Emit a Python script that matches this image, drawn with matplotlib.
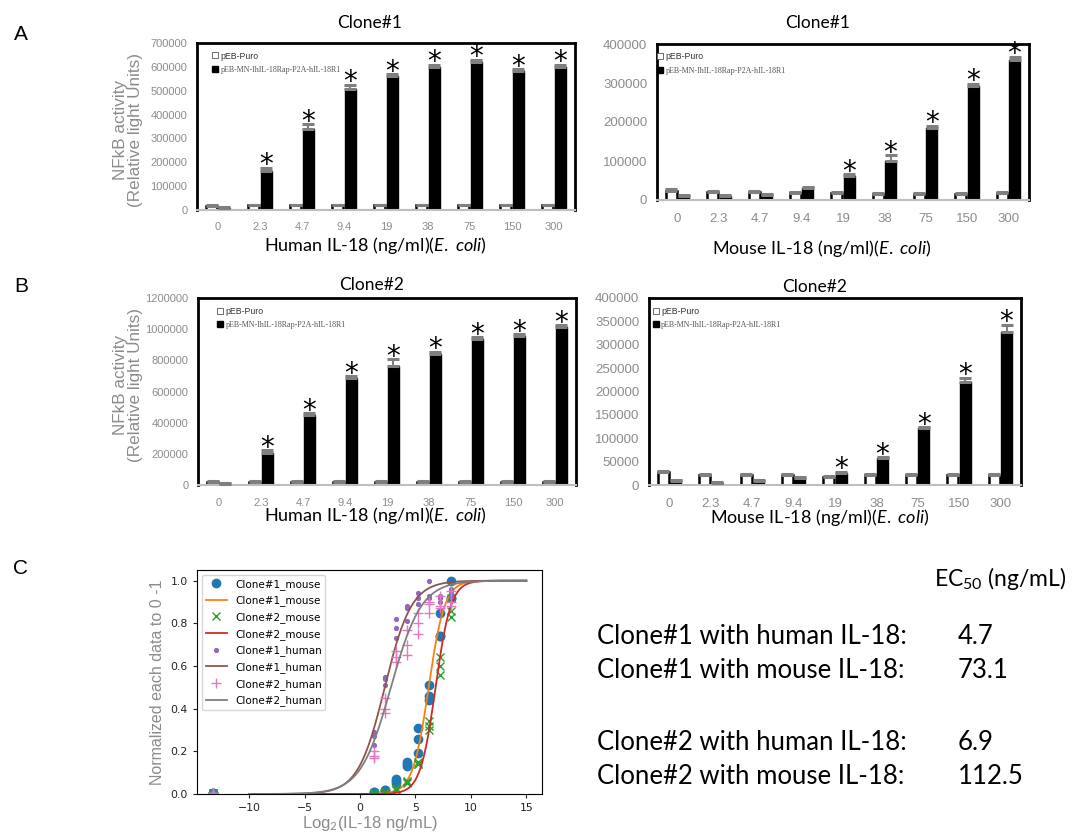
import matplotlib
matplotlib.use('Agg')
import matplotlib.pyplot as plt
import numpy as np
from matplotlib.lines import Line2D
from matplotlib.ticker import FuncFormatter

plt.rcParams['mathtext.fontset'] = 'custom'
plt.rcParams['mathtext.rm'] = 'Lato'
plt.rcParams['mathtext.it'] = 'Lato:italic'

# ---- data -------------------------------------------------------------
dose_labels = ['0', '2.3', '4.7', '9.4', '19', '38', '75', '150', '300']

# A: Clone#1
a1_puro = [18000, 20000, 20000, 20000, 20000, 20000, 20000, 20000, 20000]
a1_puro_err = [4000, 3000, 3000, 3000, 3000, 3000, 3000, 3000, 3000]
a1_rec = [8000, 165000, 340000, 508000, 560000, 598000, 620000, 581000, 600000]
a1_rec_err = [3000, 12000, 20000, 17000, 10000, 10000, 9000, 9000, 9000]
a1_sig = [0, 1, 1, 1, 1, 1, 1, 1, 1]

a2_puro = [24000, 21000, 20000, 18000, 18000, 16000, 16000, 16000, 18000]
a2_puro_err = [3000, 3000, 3000, 3000, 3000, 3000, 3000, 3000, 3000]
a2_rec = [11000, 10000, 13000, 30000, 62000, 100000, 184000, 292000, 360000]
a2_rec_err = [2000, 2000, 2000, 3000, 4000, 15000, 7000, 6000, 7000]
a2_sig = [0, 0, 0, 0, 1, 1, 1, 1, 1]

# B: Clone#2
b1_puro = [22000, 22000, 22000, 22000, 22000, 22000, 22000, 22000, 22000]
b1_puro_err = [5000, 4000, 4000, 4000, 4000, 4000, 4000, 4000, 4000]
b1_rec = [8000, 208000, 447000, 686000, 763000, 843000, 937000, 955000, 1012000]
b1_rec_err = [2000, 15000, 12000, 12000, 43000, 12000, 12000, 12000, 12000]
b1_sig = [0, 1, 1, 1, 1, 1, 1, 1, 1]

b2_puro = [27000, 21500, 21500, 21500, 17000, 21500, 21500, 21500, 21500]
b2_puro_err = [2000, 1500, 1500, 1500, 1500, 1500, 1500, 1500, 1500]
b2_rec = [9000, 5000, 9000, 16000, 26500, 57000, 121000, 220000, 328000]
b2_rec_err = [1500, 1500, 1500, 1500, 2000, 2000, 2000, 9000, 15000]
b2_sig = [0, 0, 0, 0, 1, 1, 1, 1, 1]

# C: normalized responses (triplicates per dose), 0 dose plotted at 1e-4 ng/mL
conc = [0.0001, 2.34375, 4.6875, 9.375, 18.75, 37.5, 75, 150, 300]
c1_mouse = [[0.005, 0.005, 0.005], [0.01, 0.01, 0.005], [0.02, 0.015, 0.02],
            [0.07, 0.06, 0.05], [0.15, 0.14, 0.13], [0.31, 0.26, 0.19],
            [0.51, 0.46, 0.44], [0.85, 0.74, 0.74], [1.0, 0.92, 0.92]]
c2_mouse = [[0.005, 0.005, 0.005], [0.0, 0.0, 0.005], [0.01, 0.005, 0.01],
            [0.03, 0.02, 0.02], [0.06, 0.05, 0.055], [0.15, 0.14, 0.14],
            [0.34, 0.32, 0.30], [0.64, 0.60, 0.56], [0.92, 0.86, 0.83]]
c1_human = [[0.005, 0.005, 0.005], [0.29, 0.27, 0.23], [0.55, 0.54, 0.51],
            [0.82, 0.78, 0.73], [0.88, 0.87, 0.81], [0.94, 0.92, 0.89],
            [1.0, 0.93, 0.92], [0.93, 0.92, 0.90], [0.96, 0.94, 0.93]]
c2_human = [[0.005, 0.005, 0.005], [0.20, 0.18, 0.17], [0.45, 0.40, 0.38],
            [0.67, 0.64, 0.62], [0.77, 0.70, 0.65], [0.85, 0.80, 0.75],
            [0.90, 0.89, 0.85], [0.93, 0.88, 0.87], [0.95, 0.90, 0.88]]

# fitted 4PL (bottom 0, top 1) parameters
fit_names = ['Clone#1_mouse', 'Clone#2_mouse', 'Clone#1_human', 'Clone#2_human']
fit_ec50 = [73.1, 112.5, 4.7, 6.9]
fit_hill = [2.0, 2.1, 1.2, 1.05]

ec50_rows = ['Clone#1 with human IL-18:', 'Clone#1 with mouse IL-18:',
             'Clone#2 with human IL-18:', 'Clone#2 with mouse IL-18:']
ec50_vals = ['4.7', '73.1', '6.9', '112.5']

# ---- layout helpers ---------------------------------------------------
W, H = 1079, 834
fig = plt.figure(figsize=(W / 100, H / 100), dpi=100)

GRAY = '#8c8c8c'
CAL = 'Lato'


def box(l, t, r, b):
    return [l / W, 1 - b / H, (r - l) / W, (b - t) / H]


def ftext(x, y, s, **kw):
    fig.text(x / W, 1 - y / H, s, **kw)


def panel_barras(ax, puro, puro_err, rec, rec_err, sig, ymax, ystep, fs, leg_x):
    x = np.arange(len(dose_labels))
    w = 0.27
    zeros = np.zeros(len(x))
    ax.bar(x - 0.15, puro, w, color='white', edgecolor='black', linewidth=1.8, zorder=2)
    ax.bar(x + 0.15, rec, w, color='black', edgecolor='black', linewidth=1.0, zorder=2)
    ax.errorbar(x - 0.15, puro, yerr=[zeros, puro_err], fmt='none', ecolor='#7f7f7f',
                elinewidth=1.5, capsize=4, capthick=2.2, zorder=3)
    ax.errorbar(x + 0.15, rec, yerr=[zeros, rec_err], fmt='none', ecolor='#7f7f7f',
                elinewidth=1.5, capsize=4, capthick=2.2, zorder=3)
    for i in range(len(x)):
        if sig[i]:
            ax.annotate('*', (x[i] + 0.15, rec[i] + rec_err[i]), xytext=(0, -8.3),
                        textcoords='offset points', ha='center', va='bottom',
                        fontsize=20, color='black')
    ax.set_xlim(-0.5, len(x) - 0.5)
    ax.set_ylim(0, ymax)
    ax.set_yticks(np.arange(0, ymax + 1, ystep))
    ax.yaxis.set_major_formatter(FuncFormatter(lambda v, p: f'{v:.0f}'))
    ax.set_xticks(x)
    ax.set_xticklabels(dose_labels)
    ax.tick_params(length=0, labelsize=fs, colors=GRAY)
    ax.tick_params(axis='x', pad=9)
    ax.tick_params(axis='y', pad=7)
    for lab in ax.get_xticklabels() + ax.get_yticklabels():
        lab.set_family('Liberation Sans')
    for s in ['top', 'left', 'right']:
        ax.spines[s].set_color('black')
        ax.spines[s].set_linewidth(2)
    ax.spines['bottom'].set_color('#bfbfbf')
    ax.spines['bottom'].set_linewidth(1.5)

    handles = [Line2D([], [], marker='s', ls='none', mfc='white', mec='#555555', mew=0.6, ms=4),
               Line2D([], [], marker='s', ls='none', mfc='black', mec='black', ms=5)]
    leg = ax.legend(handles, ['pEB-Puro', 'pEB-MN-IhIL-18Rap-P2A-hIL-18R1'], loc='upper left',
                    bbox_to_anchor=(leg_x, 0.975), frameon=False, fontsize=6.3,
                    handlelength=0.6, handletextpad=0.3, borderpad=0, labelspacing=0.6)
    t0, t1 = leg.get_texts()
    t0.set_family('Liberation Sans')
    t0.set_color('#333333')
    t1.set_family('Liberation Serif')
    t1.set_color('#555555')
    t1.set_fontsize(5.8)


axA1 = fig.add_axes(box(197, 43, 575, 210))
panel_barras(axA1, a1_puro, a1_puro_err, a1_rec, a1_rec_err, a1_sig, 700000, 100000, 8, 0.03)
axA2 = fig.add_axes(box(657, 44, 1029, 200))
panel_barras(axA2, a2_puro, a2_puro_err, a2_rec, a2_rec_err, a2_sig, 400000, 100000, 9.5, -0.01)
axB1 = fig.add_axes(box(198, 298, 576, 485))
panel_barras(axB1, b1_puro, b1_puro_err, b1_rec, b1_rec_err, b1_sig, 1200000, 200000, 8, 0.04)
axB2 = fig.add_axes(box(649, 298, 1021, 485))
panel_barras(axB2, b2_puro, b2_puro_err, b2_rec, b2_rec_err, b2_sig, 400000, 50000, 9.5, 0.0)

# titles, axis labels of the bar panels
for (cx, cy, s) in [(370, 23, 'Clone#1'), (818, 23, 'Clone#1'),
                    (372, 285, 'Clone#2'), (815, 287, 'Clone#2')]:
    ftext(cx, cy, s, ha='center', va='center', fontsize=12.5, family=CAL)

xl_h = 'Human IL-18 (ng/ml)($\\it{E.\\ coli}$)'
xl_m = 'Mouse IL-18 (ng/ml)($\\it{E.\\ coli}$)'
ftext(375, 246, xl_h, ha='center', va='center', fontsize=13, family=CAL)
ftext(822, 249, xl_m, ha='center', va='center', fontsize=13, family=CAL)
ftext(375, 516, xl_h, ha='center', va='center', fontsize=13, family=CAL)
ftext(820, 518, xl_m, ha='center', va='center', fontsize=13, family=CAL)

for cy in [130, 385]:
    ftext(128, cy, 'NFkB activity\n(Relative light Units)', rotation=90, ha='center',
          va='center', fontsize=12.3, color=GRAY, family='Liberation Sans', linespacing=1.0)

for (cx, cy, s) in [(21, 34, 'A'), (21, 286, 'B'), (21, 569, 'C')]:
    ftext(cx, cy, s, ha='center', va='center', fontsize=15, family='Liberation Sans')

# ---- C: dose response curves -----------------------------------------
axC = fig.add_axes(box(197, 570, 542, 794))
lx = np.log2(conc)
xs = np.linspace(-10, 15, 300)
series = [c1_mouse, c2_mouse, c1_human, c2_human]
estilos = [dict(marker='o', ms=6, color='C0'), dict(marker='x', ms=5.5, color='C2'),
           dict(marker='.', ms=5.5, color='C4'), dict(marker='+', ms=6.5, color='C6')]
cores_fit = ['C1', 'C3', 'C5', 'C7']
for k in range(4):
    yv = np.array(series[k])
    axC.plot(np.repeat(lx, yv.shape[1]), yv.ravel(), ls='none', label=fit_names[k], **estilos[k])
    curva = 1 / (1 + 2 ** (fit_hill[k] * (np.log2(fit_ec50[k]) - xs)))
    axC.plot(xs, curva, color=cores_fit[k], lw=1.3, label=fit_names[k])

axC.set_ylim(0, 1.05)
axC.set_xticks([-10, -5, 0, 5, 10, 15])
axC.set_yticks([0, 0.2, 0.4, 0.6, 0.8, 1.0])
axC.tick_params(labelsize=7.8, colors='#222222', length=3)
axC.legend(loc='upper left', fontsize=7.5, borderpad=0.35, labelspacing=0.55, handlelength=2.0)
axC.set_ylabel('Normalized each data to 0 -1', fontsize=11.5, color=GRAY,
               family='Liberation Sans', labelpad=4)
axC.set_xlabel('Log$_2$(IL-18 ng/mL)', fontsize=12, color=GRAY, family='Liberation Sans',
               labelpad=1)

# ---- EC50 table -------------------------------------------------------
ftext(1000, 578, 'EC$_{50}$ (ng/mL)', ha='center', va='center', fontsize=16.5, family=CAL)
for (cy, s, v) in zip([637, 671, 742, 776], ec50_rows, ec50_vals):
    ftext(597, cy, s, ha='left', va='center', fontsize=18.5, family=CAL)
    ftext(958, cy, v, ha='left', va='center', fontsize=18.5, family=CAL)

fig.savefig('out.png', dpi=100)
